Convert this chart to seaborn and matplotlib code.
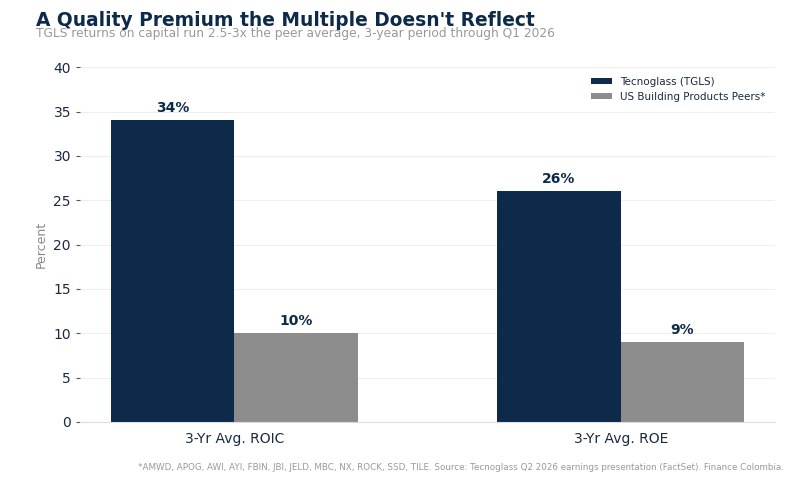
import matplotlib
matplotlib.use("Agg")
import matplotlib.pyplot as plt
import seaborn as sns
import pandas as pd

metrics = ["3-Yr Avg. ROIC", "3-Yr Avg. ROE"]
series = ["Tecnoglass (TGLS)", "US Building Products Peers*"]
tgls = [34, 26]
peers = [10, 9]
colors = ["#0d2a4a", "#8c8c8c"]

df = pd.DataFrame({
    "metric": metrics * 2,
    "series": [series[0]] * 2 + [series[1]] * 2,
    "value": tgls + peers,
})

sns.set_style("white")
plt.rcParams['font.family'] = ['DejaVu Sans']
fig = plt.figure(figsize=(8, 4.8), dpi=100)
ax = fig.add_axes([0.1, 0.121, 0.869, 0.739])
sns.barplot(data=df, x="metric", y="value", hue="series", palette=colors,
            width=0.64, ax=ax, saturation=1, linewidth=0)
for cont in ax.containers:
    ax.bar_label(cont, labels=[f"{v:.0f}%" for v in cont.datavalues], padding=4,
                 fontsize=10, fontweight="bold", color="#0d2a4a")
ax.set_xlim(-0.4, 1.4)
ax.set_ylim(0, 40)
ax.set_yticks(range(0, 41, 5))
ax.yaxis.grid(True, color="#eeeeee", linewidth=0.8)
ax.set_axisbelow(True)
for s in ["top", "right", "left"]:
    ax.spines[s].set_visible(False)
ax.spines["bottom"].set_color("#dddddd")
ax.tick_params(axis="y", left=True, length=3, color="#555555", labelsize=10, labelcolor="#1a2a40")
ax.tick_params(axis="x", labelsize=10, labelcolor="#1a2a40")
ax.set_xlabel("")
ax.set_ylabel("Percent", color="#888888", fontsize=9)
leg = ax.legend(loc="upper right", frameon=False, fontsize=7.5, labelcolor="#1a2a40",
                handlelength=2.0, handleheight=0.6)
fig.text(0.045, 0.945, "A Quality Premium the Multiple Doesn't Reflect", fontsize=13.4,
         fontweight="bold", color="#0d2a4a")
fig.text(0.045, 0.922, "TGLS returns on capital run 2.5-3x the peer average, 3-year period through Q1 2026",
         fontsize=8.8, color="#999999")
fig.text(0.98, 0.02, "*AMWD, APOG, AWI, AYI, FBIN, JBI, JELD, MBC, NX, ROCK, SSD, TILE. Source: Tecnoglass Q2 2026 earnings presentation (FactSet). Finance Colombia.",
         fontsize=6.3, color="#999999", ha="right")
fig.savefig("out.png", dpi=100)
